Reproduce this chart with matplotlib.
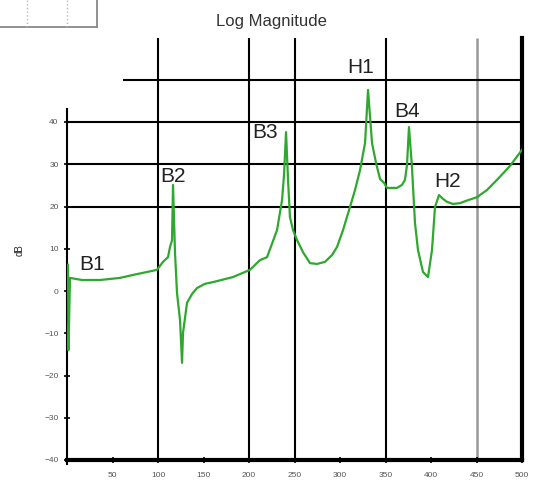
import matplotlib
matplotlib.use("Agg")
import matplotlib.pyplot as plt
from matplotlib.lines import Line2D

plt.rcParams['font.family'] = ['Liberation Sans', 'DejaVu Sans']

# frequency (Hz) / log magnitude (dB)
freq = [1.1, 1.6, 3.3, 16.5, 36.3, 58.2, 72.5, 83.5, 98.9, 105.5, 111, 113.2, 115.4,
        116.5, 118.7, 120.9, 124.2, 126.4, 127.5, 131.9, 137.4, 142.9, 151.6, 160.4,
        182.4, 201, 212, 219.8, 230.8, 236.3, 238.5, 240.7, 242.9, 245, 248.4,
        252.7, 259.3, 267, 274.7, 283.5, 291.2, 296.7, 303.3, 311, 316.5, 322,
        327.5, 330.8, 335.2, 339.6, 344, 348.4, 351.6, 362.6, 368.1, 371.4, 373.6,
        375.8, 379.1, 382.4, 385.7, 391.2, 396.7, 401.1, 404.4, 408.8, 413.2,
        417.6, 424.2, 431.9, 440.7, 450.5, 461.5, 472.5, 486.8, 500]
mag = [6.2, -14.0, 3.1, 2.6, 2.6, 3.1, 3.8, 4.3, 5.0, 6.9, 8.0, 10.4, 12.0,
       25.1, 9.0, -0.5, -6.9, -17.0, -9.9, -2.8, -0.7, 0.7, 1.7, 2.1,
       3.3, 5.0, 7.3, 8.0, 14.4, 21.5, 27.5, 37.6, 26.3, 17.5, 14.4,
       12.1, 9.2, 6.6, 6.4, 6.9, 8.5, 10.4, 14.4, 19.9, 23.9, 28.6,
       35.0, 47.6, 35.0, 30.3, 26.5, 25.6, 24.4, 24.4, 25.1, 26.3, 29.8,
       38.8, 29.3, 16.1, 9.7, 4.5, 3.3, 9.7, 19.9, 22.7, 21.8,
       21.1, 20.6, 20.8, 21.5, 22.2, 23.9, 26.3, 29.6, 33.4]

# mode labels
labels = ['B1', 'B2', 'B3', 'H1', 'B4', 'H2']
label_f = [14, 102, 204, 308, 360, 404]
label_db = [6.2, 27.0, 37.4, 52.8, 42.4, 26.0]

# marker lines
vlines_f = [100, 200, 250, 350]
gray_f = [450]
hlines_db = [20, 30, 40]

xticks = list(range(50, 501, 50))
yticks = list(range(-40, 41, 10))

fig = plt.figure(figsize=(5.34, 4.93), dpi=100)
ax = fig.add_axes([67 / 534, 1 - 460 / 493, 455 / 534, 422.5 / 493])
ax.set_xlim(0, 500)
ax.set_ylim(-40, 60)

for f in vlines_f:
    ax.vlines(f, -40, 60, color='black', lw=1.5, zorder=1)
for f in gray_f:
    ax.vlines(f, -40, 60, color='#999999', lw=1.8, zorder=1)
for d in hlines_db:
    ax.hlines(d, 0, 500, color='black', lw=1.5, zorder=1)
ax.hlines(50, 61, 500, color='black', lw=1.5, zorder=1)

ax.plot(freq, mag, color='#2ea82e', lw=1.6, zorder=3)

for lab, f, d in zip(labels, label_f, label_db):
    ax.text(f, d, lab, fontsize=15, color='#222222', ha='left', va='center', zorder=4)

ax.spines['top'].set_visible(False)
ax.spines['left'].set_bounds(-41, 43)
ax.spines['left'].set_linewidth(1.5)
ax.spines['right'].set_linewidth(3)
ax.spines['bottom'].set_linewidth(3)

ax.set_xticks(xticks)
ax.set_yticks(yticks)
ax.tick_params(axis='both', direction='inout', length=5, width=1.2,
               labelsize=6, labelcolor='#555555')
ax.tick_params(axis='x', pad=6)

ax.set_title('Log Magnitude', fontsize=12, color='#333333', pad=8, x=0.45)
fig.text(20 / 534, 1 - 250 / 493, 'dB', rotation=90, fontsize=7,
         ha='center', va='center', color='#222222')

# fragment of the neighbouring figure at top left
fig.add_artist(Line2D([97 / 534, 97 / 534], [1, 1 - 27 / 493],
                      transform=fig.transFigure, color='#888888', lw=1.3))
fig.add_artist(Line2D([0, 97 / 534], [1 - 27 / 493, 1 - 27 / 493],
                      transform=fig.transFigure, color='#888888', lw=1.3))
for px in [27, 67]:
    fig.add_artist(Line2D([px / 534, px / 534], [1, 1 - 27 / 493],
                          transform=fig.transFigure, color='#bbbbbb', lw=1, ls=':'))

fig.savefig('out.png', dpi=100)
